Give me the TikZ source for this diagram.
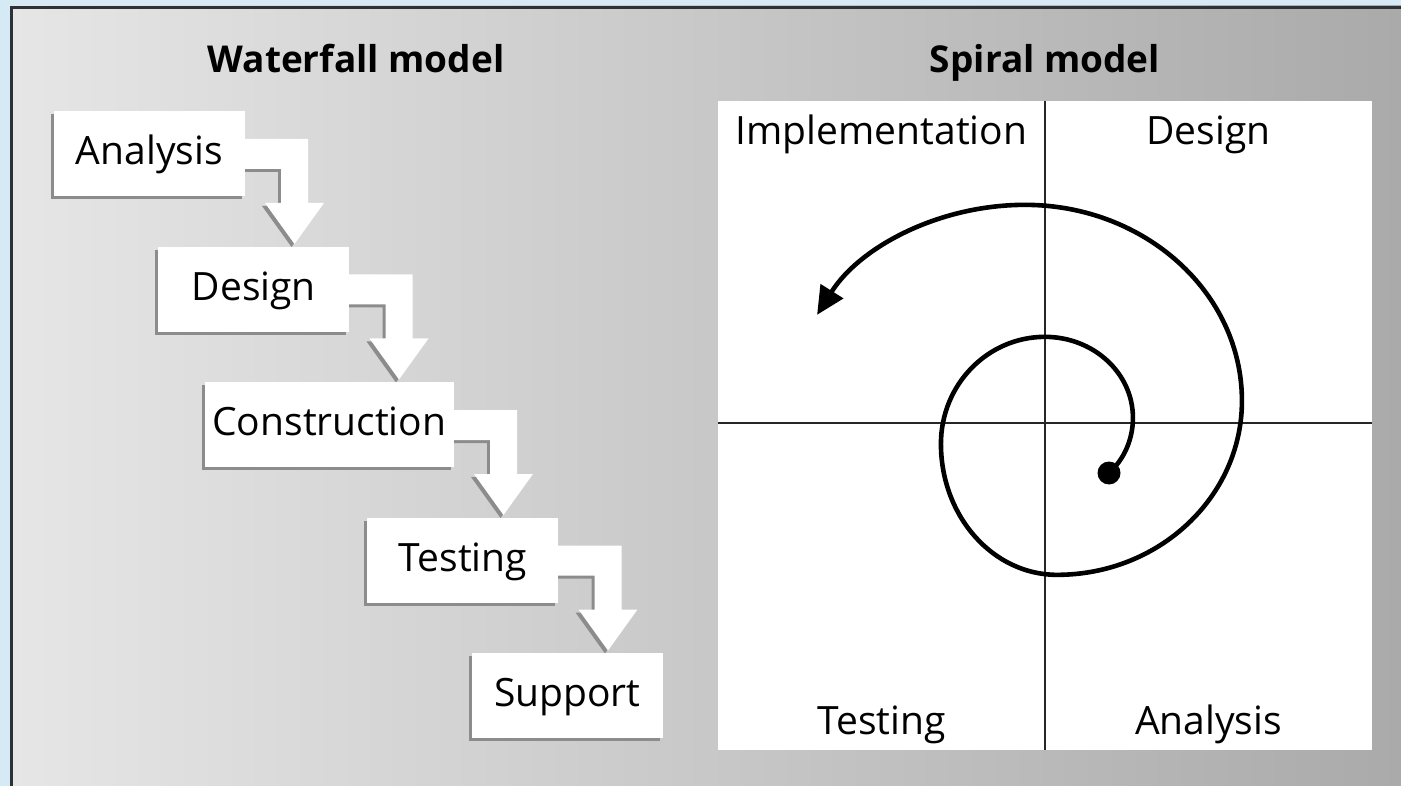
\documentclass[tikz,border=0pt]{standalone}
\usepackage{fontspec}
\setmainfont{Open Sans}
\usepackage{tikz}
\usetikzlibrary{positioning}
\usetikzlibrary{shapes,arrows.meta,shadows,backgrounds}
\definecolor{sky}{RGB}{214,234,246}
\definecolor{rim}{RGB}{45,50,55}
\definecolor{greyl}{RGB}{230,230,230}
\definecolor{greym}{RGB}{212,212,212}
\definecolor{greyr}{RGB}{170,170,170}
\tikzstyle{block} = [rectangle, fill=white, anchor=north east, 
    minimum width=191pt, minimum height=85pt, inner sep=0pt,
    text height=30pt, text depth=8pt, font=\fontsize{39}{46}\selectfont,
    drop shadow={shadow xshift=-3pt, shadow yshift=-3pt, fill=black!45, opacity=1}]
\tikzstyle{flow} = [fill=white, 
    drop shadow={shadow xshift=-3pt, shadow yshift=-3pt, fill=black!45, opacity=1}]
\tikzstyle{title} = [anchor=base, font=\bfseries\fontsize{37}{44}\selectfont]
\tikzstyle{quad} = [anchor=base, font=\fontsize{39}{46}\selectfont]
\tikzstyle{panel} = [rectangle, fill=white, minimum width=654pt, minimum height=649pt, inner sep=0pt]
\tikzstyle{axis} = [draw, line width=2pt, black!85]
\tikzstyle{spiral} = [draw, line width=4.6pt, -{Triangle[length=28pt,width=26pt]}]

\begin{document}
\begin{tikzpicture}[x=1pt, y=1pt]
        \useasboundingbox (0,0) rectangle (1401,-786);
        % frame
        \begin{pgfonlayer}{background}
        \fill[sky] (0,0) rectangle (1401,-786);
        \shade[left color=greyl, middle color=greym, right color=greyr] (10,-6) rectangle (1401,-786);
        \draw[rim, line width=3pt] (11.5,-786) -- (11.5,-7.5) -- (1401,-7.5);
        \end{pgfonlayer}
        % nodes
        \node [title] (wtitle) at (356,-73) {Waterfall model};
        \node [title] (stitle) at (1045,-73) {Spiral model};
        \node [block] (ana) at (245,-111) {Analysis};
        \node [block] (des) at ([shift={(104.5,-135.5)}]ana.north east) {Design};
        \node [block, minimum width=249pt] (con) at ([shift={(104.5,-135.5)}]des.north east) {Construction};
        \node [block] (tes) at ([shift={(104.5,-135.5)}]con.north east) {Testing};
        \node [block] (sup) at ([shift={(104.5,-135.5)}]tes.north east) {Support};
        \node [panel] (panel) at (1045,-425.5) {};
        \node [quad] (qimp) at (881.5,-145) {Implementation};
        \node [quad] (qdes) at (1208.5,-145) {Design};
        \node [quad] (qtes) at (881.5,-734) {Testing};
        \node [quad] (qana) at (1208.5,-734) {Analysis};
        \node [circle, fill=black, minimum size=23pt, inner sep=0pt] (start) at (1109,-473) {};
        % edges
        \begin{pgfonlayer}{background}
        \path [flow] ([shift={(-5,-28)}]ana.north east) -- ++(68,0) -- ++(0,-64) -- ++(16,0) -- ++(-29.5,-41) -- ++(-29.5,41) -- ++(16,0) -- ++(0,34) -- ++(-41,0) -- cycle;
        \path [flow] ([shift={(-5,-28)}]des.north east) -- ++(68,0) -- ++(0,-64) -- ++(16,0) -- ++(-29.5,-41) -- ++(-29.5,41) -- ++(16,0) -- ++(0,34) -- ++(-41,0) -- cycle;
        \path [flow] ([shift={(-5,-28)}]con.north east) -- ++(68,0) -- ++(0,-64) -- ++(16,0) -- ++(-29.5,-41) -- ++(-29.5,41) -- ++(16,0) -- ++(0,34) -- ++(-41,0) -- cycle;
        \path [flow] ([shift={(-5,-28)}]tes.north east) -- ++(68,0) -- ++(0,-64) -- ++(16,0) -- ++(-29.5,-41) -- ++(-29.5,41) -- ++(16,0) -- ++(0,34) -- ++(-41,0) -- cycle;
        \end{pgfonlayer}
        \path [axis] (panel.north) -- (panel.south);
        \path [axis] ([yshift=2.5pt]panel.west) -- ([yshift=2.5pt]panel.east);
        \path [spiral] (start.center)
            arc[start angle=-50, end angle=0, x radius=67, y radius=72]
            arc[start angle=0, end angle=90, x radius=88, y radius=81]
            arc[start angle=90, end angle=180, x radius=104, y radius=107]
            arc[start angle=180, end angle=270, x radius=116, y radius=131]
            arc[start angle=270, end angle=360, x radius=185, y radius=174]
            arc[start angle=0, end angle=90, x radius=217, y radius=196]
            arc[start angle=90, end angle=150, x radius=240, y radius=220];
    \end{tikzpicture}
\end{document}
